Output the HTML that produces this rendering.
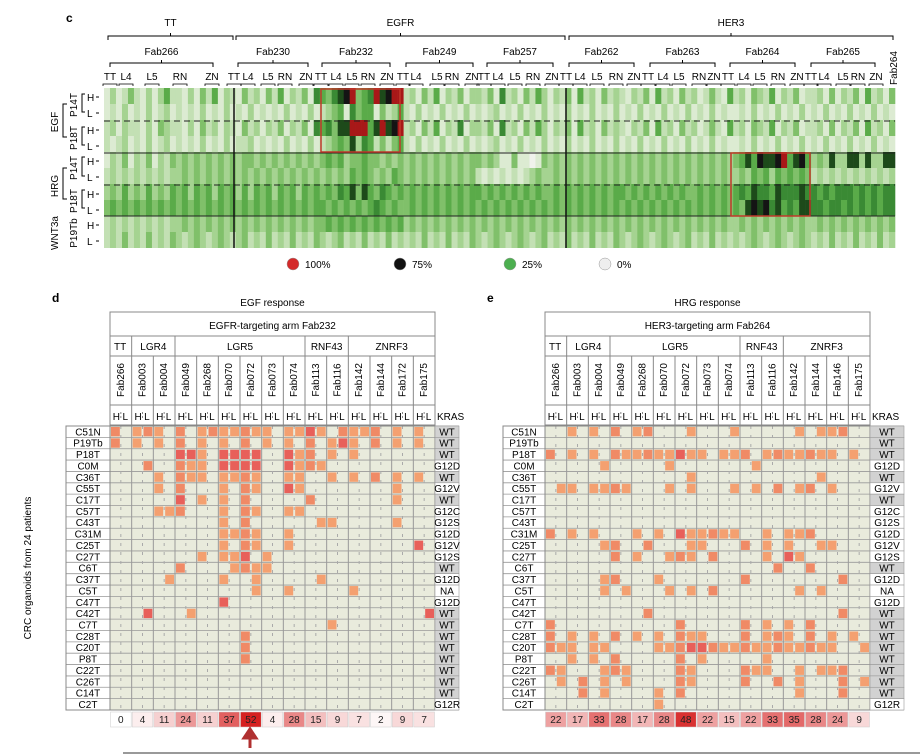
<!DOCTYPE html>
<html><head><meta charset="utf-8"><style>
body{margin:0;background:#fff;}
svg{display:block;font-family:"Liberation Sans",Arial,sans-serif;}
</style></head><body>
<svg id="fig" width="920" height="754" viewBox="0 0 920 754" xmlns="http://www.w3.org/2000/svg">
<g id="topPanel"></g>
<g id="left"></g>
<g id="right"></g>
</svg>
<script>
// ---------- Panel c data ----------
const heatRows = [
"131242131352213142513214231425132416"+"54678945697899"+"2314251324133241623142531324152314232132415231423124215"+"2314325132412"+"23141324152314",
"121312131231212131213121312121312131"+"23451645514235"+"2131213121312123121312131213121312131213121312131213121"+"1213121312131"+"21312131213121",
"231322131432213142313214231324132416"+"56477999579789"+"2314251326133241623142531324152314232132415231423124215"+"2314325132412"+"23141324152314",
"212312131231212131213122312121312131"+"23454736524245"+"2131213121312123121312131213121312131213121312131213121"+"1213121312131"+"21312131213121",
"132413241324343434343434434343434343"+"45453445443434"+"3434343434344343114110143434343434343434343434343434343"+"4575877895785"+"34373377373377",
"232323232323343434343434343434343434"+"34343545434354"+"3434343434342121212123433434343434343434343434343434343"+"3435453545454"+"23232323232323",
"343534353435453545354535354535453545"+"45465747546545"+"4545454545455454545454544545454545455454545454544545454"+"5657665766676"+"65656665656566",
"454545454545454545454545454545454545"+"54545454565454"+"4545454545454545454545454545454545454545454545454545454"+"5478786756577"+"66566565656566",
"232323232323343434343434343434343434"+"45454545454545"+"3434343434343434343434343434343434343434343434343434343"+"3434343434343"+"34343434343434",
"232423242324323432343234232423242324"+"32342324232423"+"2324232423243234323432342324232423243234323432342324232"+"3234323432343"+"23242324232423"
];
const heatColors = ["#f0f2ec","#dcebd2","#c3e0b4","#a5d391","#80c06a","#5aab49","#3a8a34","#1d4a1a","#141414","#a81818"];
const rowTags = ["H","L","H","L","H","L","H","L","H","L"];

// ---------- Panel d/e data ----------
const patientsD = ["C51N","P19Tb","P18T","C0M","C36T","C55T","C17T","C57T","C43T","C31M","C25T","C27T","C6T","C37T","C5T","C47T","C42T","C7T","C28T","C20T","P8T","C22T","C26T","C14T","C2T"];
const krasD = ["WT","WT","WT","G12D","WT","G12V","WT","G12C","G12S","G12D","G12V","G12S","WT","G12D","NA","G12D","WT","WT","WT","WT","WT","WT","WT","WT","G12R"];
const fabsD = ["Fab266","Fab003","Fab004","Fab049","Fab268","Fab070","Fab072","Fab073","Fab074","Fab113","Fab116","Fab142","Fab144","Fab172","Fab175"];
const fabsE = ["Fab266","Fab003","Fab004","Fab049","Fab268","Fab070","Fab072","Fab073","Fab074","Fab113","Fab116","Fab142","Fab144","Fab146","Fab175"];
const groupNames = ["TT","LGR4","LGR5","RNF43","ZNRF3"];
const groupSpans = [1,2,6,2,4];
const countsD = [0,4,11,24,11,37,52,4,28,15,9,7,2,9,7];
const countsE = [22,17,33,28,17,28,48,22,15,22,33,35,28,24,9];
const cellsD = [
[0,2,3,4,6,8,9,10,11,12,13,14,16,17,118,19,21,22,23,24,26,28],
[0,2,4,6,8,10,12,14,16,18,20,121,22,24,26,28],
[106,107,8,110,111,112,113,116,17,18,20,22],
[3,6,7,8,110,111,112,113,116,17,18,19],
[4,6,7,8,10,11,12,13,16,17,20,22,24,26,28],
[4,6,10,12,13,116,17,26],
[106,8,10,12,18,26],
[4,5,6,10,12,13,16,17],
[10,12,19,20,26],
[10,11,12,13,16],
[10,12,13,16,128],
[8,10,11,112,14],
[6,11,12,13,14],
[5,10,13,19],
[13,16,22],
[110],
[103,7,129],
[20],
[12],[12],[12],
[],[],[],[]
];
const cellsE = [
[2,4,6,8,9,13,17,23,25,26,27],
[],
[0,2,4,6,7,8,9,10,11,112,13,14,16,17,18,20,21,22,23,24,25,26,28],
[5,11,19],
[13,25],
[1,2,4,5,6,7,11,13,17,19,21,23,24,26],
[],[],[],
[0,2,4,8,10,112,13,14,15,16,17,20,22,23,24],
[5,6,9,13,14,18,20,22,25,26],
[6,8,11,12,13,15,20,122,23],
[21,24],
[5,6,10,18,27],
[5,7,11,13,15,23,25],
[],
[9,27],
[0,12,18,20,22,24],
[0,2,4,6,8,10,12,13,14,18,20,21,22,24,26,28],
[0,1,2,4,5,10,11,12,113,114,15,16,17,18,19,20,21,22,23,24,25,26,29],
[2,4,6,12,14,20],
[0,1,5,6,7,12,13,18,19,20,23,25,26,27],
[1,3,5,7,12,13,18,21,23,27,29],
[3,5,10,12,23,27],
[10]
];

const NS="http://www.w3.org/2000/svg";
function mk(parent,tag,attrs,text){const e=document.createElementNS(NS,tag);for(const k in attrs)e.setAttribute(k,attrs[k]);if(text!==undefined)e.textContent=text;parent.appendChild(e);return e;}

// ---------- Panel c ----------
const topG=document.getElementById('topPanel');
const hx0=104,hx1=895,hy0=88,rowH=16;
const nCols=heatRows[0].length;
const colW=(hx1-hx0)/nCols;
function xCol(i){return hx0+i*colW;}
function yRow(r){return hy0+r*rowH;}
mk(topG,'text',{x:66,y:22,'font-size':12,'font-weight':'bold'},'c');
const hg=mk(topG,'g',{});


heatRows.forEach((row,r)=>{
  for(let i=0;i<row.length&&i<nCols;i++){
    const c=mk(hg,'rect',{x:xCol(i).toFixed(2),y:yRow(r),width:(colW+0.3).toFixed(2),height:rowH,fill:heatColors[+row[i]]});
    
    
  }
});
mk(topG,'line',{x1:hx0,x2:hx1,y1:153,y2:153,stroke:'#222','stroke-width':1});
mk(topG,'line',{x1:hx0,x2:hx1,y1:216,y2:216,stroke:'#222','stroke-width':1});
mk(topG,'line',{x1:hx0,x2:hx1,y1:121,y2:121,stroke:'#222','stroke-width':1,'stroke-dasharray':'6,4'});
mk(topG,'line',{x1:hx0,x2:hx1,y1:185,y2:185,stroke:'#222','stroke-width':1,'stroke-dasharray':'6,4'});
mk(topG,'line',{x1:234,x2:234,y1:hy0,y2:248,stroke:'#111','stroke-width':1.5});
mk(topG,'line',{x1:566,x2:566,y1:hy0,y2:248,stroke:'#111','stroke-width':1.5});
const b1=mk(topG,'rect',{x:321,y:89,width:79,height:63,fill:'none',stroke:'#c0392b','stroke-width':1.5});

const b2=mk(topG,'rect',{x:731,y:153,width:79,height:63,fill:'none',stroke:'#c0392b','stroke-width':1.5});

const rowYs=[97,113,130,146,161,177,194,210,225,241];
rowTags.forEach((t,i)=>{mk(topG,'text',{x:87,y:rowYs[i]+4,'font-size':10},t);mk(topG,'line',{x1:96,x2:99,y1:rowYs[i],y2:rowYs[i],stroke:'#000'});});
function vtext(x,y,t,fs){return mk(topG,'text',{x:x,y:y,'font-size':fs||10,'text-anchor':'middle',transform:`rotate(-90 ${x} ${y})`},t);}
vtext(77,105,'P14T');vtext(77,138,'P18T');vtext(77,168,'P14T');vtext(77,201,'P18T');vtext(77,233,'P19Tb');
vtext(58,122,'EGF');vtext(58,186,'HRG');vtext(58,233,'WNT3a');
[[104,137],[168,199]].forEach(([a,b])=>{mk(topG,'path',{d:`M67,${a}H63V${b}H67`,fill:'none',stroke:'#000'});});
[[94,112],[127,145],[157,176],[190,208]].forEach(([a,b])=>{mk(topG,'path',{d:`M85,${a}H82V${b}H85`,fill:'none',stroke:'#000'});});
function bracket(x1,x2,y,label,ly){mk(topG,'path',{d:`M${x1},${y+4}V${y}H${x2}V${y+4}M${(x1+x2)/2},${y}V${y-3}`,fill:'none',stroke:'#000'});mk(topG,'text',{x:(x1+x2)/2,y:ly,'font-size':10,'text-anchor':'middle'},label);}
bracket(108,233,36,'TT',26);bracket(236,565,36,'EGFR',26);bracket(569,893,36,'HER3',26);
const fabTop=[["Fab266",110,213],["Fab230",238,308],["Fab232",322,390],["Fab249",406,473],["Fab257",487,553],["Fab262",569,634],["Fab263",650,715],["Fab264",730,795],["Fab265",811,875]];
fabTop.forEach(f=>bracket(f[1],f[2],63,f[0],55));
const subX=[[110,126,152,180,212],[234,248,268,285,306],[321,336,352,368,387],[403,416,437,452,472],[484,498,515,533,552],[566,580,597,616,634],[648,663,679,699,714],[728,744,760,778,797],[811,824,843,858,876]];
const subN=["TT","L4","L5","RN","ZN"];
subX.forEach(s=>{s.forEach((x,i)=>{mk(topG,'text',{x:x,y:80,'font-size':10,'text-anchor':'middle'},subN[i]);mk(topG,'path',{d:`M${x-7},86V84H${x+7}V86`,fill:'none',stroke:'#000','stroke-width':0.8});});});
vtext(897,68,'Fab264');
const leg=[[293,'#d42a2a','100%'],[400,'#111','75%'],[510,'#4caf50','25%'],[605,'#eee','0%']];
leg.forEach(l=>{const g=mk(topG,'g',{});mk(g,'circle',{cx:l[0],cy:264,r:6,fill:l[1],stroke:'#999','stroke-width':0.5});mk(g,'text',{x:l[0]+12,y:268,'font-size':10},l[2]);});

// ---------- Tables ----------
function drawTable(g,ox,letter,title,sub,fabs,cells,counts,labW,krasW){
  const W=325,cw=W/15,half=cw/2,y0=426,rh=284/25;
  mk(g,'text',{x:ox-58,y:302,'font-size':12,'font-weight':'bold'},letter);
  mk(g,'text',{x:ox+W/2,y:306,'font-size':10,'text-anchor':'middle'},title);
  mk(g,'rect',{x:ox,y:312,width:W,height:113,fill:'#fff',stroke:'#888'});
  mk(g,'text',{x:ox+W/2,y:329,'font-size':10,'text-anchor':'middle'},sub);
  mk(g,'line',{x1:ox,x2:ox+W,y1:336,y2:336,stroke:'#888'});
  mk(g,'line',{x1:ox,x2:ox+W,y1:356,y2:356,stroke:'#888'});
  mk(g,'line',{x1:ox,x2:ox+W,y1:405,y2:405,stroke:'#888'});
  let ci=0;
  groupNames.forEach((n,k)=>{const x=ox+ci*cw;const w=groupSpans[k]*cw;
    if(k>0)mk(g,'line',{x1:x,x2:x,y1:336,y2:356,stroke:'#888'});
    mk(g,'text',{x:k==0?x+4:x+w/2,y:350,'font-size':10,'text-anchor':k==0?'start':'middle'},n);
    ci+=groupSpans[k];});
  fabs.forEach((f,i)=>{const x=ox+i*cw;
    if(i>0)mk(g,'line',{x1:x,x2:x,y1:356,y2:y0+284,stroke:'#888'});
    const cx=x+cw/2+3,cy=380;
    mk(g,'text',{x:cx,y:cy,'font-size':10,'text-anchor':'middle',transform:`rotate(-90 ${cx} ${cy})`},f);
    mk(g,'text',{x:x+half/2+1,y:420,'font-size':10,'text-anchor':'middle'},'H');
    mk(g,'text',{x:x+half*1.5-1,y:420,'font-size':10,'text-anchor':'middle'},'L');
    mk(g,'line',{x1:x+half,x2:x+half,y1:412,y2:419,stroke:'#888','stroke-dasharray':'2,2'});
  });
  mk(g,'text',{x:ox+W+2,y:420,'font-size':10},'KRAS');
  mk(g,'rect',{x:ox,y:y0,width:W,height:284,fill:'#e9ebdc'});
  cells.forEach((row,r)=>{row.forEach(v=>{const strong=v>=100;const i=v%100;
    const c=mk(g,'rect',{x:(ox+i*half+1).toFixed(2),y:(y0+r*rh+1).toFixed(2),width:(half-2).toFixed(2),height:(rh-2).toFixed(2),fill:strong?'#e8605a':(i%3==0?'#f08a66':'#f4a070')});
    
    
  });});
  for(let r=0;r<=25;r++)mk(g,'line',{x1:ox-labW,x2:ox+W+krasW,y1:y0+r*rh,y2:y0+r*rh,stroke:'#999','stroke-width':0.8});
  fabs.forEach((f,i)=>{const x=ox+i*cw;
    if(i>0)mk(g,'line',{x1:x,x2:x,y1:y0,y2:y0+284,stroke:'#999'});
    mk(g,'line',{x1:x+half,x2:x+half,y1:y0,y2:y0+284,stroke:'#aaa','stroke-dasharray':'3,6'});});
  mk(g,'rect',{x:ox,y:y0,width:W,height:284,fill:'none',stroke:'#888'});
  patientsD.forEach((p,r)=>{
    mk(g,'text',{x:ox-labW/2,y:y0+r*rh+rh-2,'font-size':10,'text-anchor':'middle'},p);
    const k=krasD[r];
    mk(g,'rect',{x:ox+W,y:y0+r*rh,width:krasW,height:rh,fill:k=='WT'?'#d2d2d2':'#fff',stroke:'#999','stroke-width':0.6});
    mk(g,'text',{x:ox+W+krasW/2,y:y0+r*rh+rh-2,'font-size':10,'text-anchor':'middle'},k);
  });
  mk(g,'rect',{x:ox-labW,y:y0,width:labW,height:284,fill:'none',stroke:'#888'});
  counts.forEach((c,i)=>{const t=Math.min(c/52,1);
    const rr=Math.round(255-(255-214)*t),gg=Math.round(255-(255-32)*t),bb=Math.round(255-(255-32)*t);
    const b=mk(g,'rect',{x:ox+i*cw+0.5,y:712,width:cw-1,height:15,fill:`rgb(${rr},${gg},${bb})`,stroke:'#ccc','stroke-width':0.5});
    
    
    mk(g,'text',{x:ox+i*cw+cw/2,y:723,'font-size':10,'text-anchor':'middle',fill:'#222'},c);
  });
}
const Lg=document.getElementById('left'),Rg=document.getElementById('right');
drawTable(Lg,110,'d','EGF response','EGFR-targeting arm Fab232',fabsD,cellsD,countsD,44,24);
drawTable(Rg,545,'e','HRG response','HER3-targeting arm Fab264',fabsE,cellsE,countsE,42,34);
const yt=mk(Lg,'text',{x:31,y:568,'font-size':10,'text-anchor':'middle',transform:'rotate(-90 31 568)'},'CRC organoids from 24 patients');

const ar=mk(Lg,'path',{d:'M250,748V737M244,738L250,729L256,738Z',stroke:'#b03030','stroke-width':3,fill:'#b03030'});

mk(Lg,'line',{x1:123,x2:920,y1:753,y2:753,stroke:'#333','stroke-width':1});
</script>
</body></html>
